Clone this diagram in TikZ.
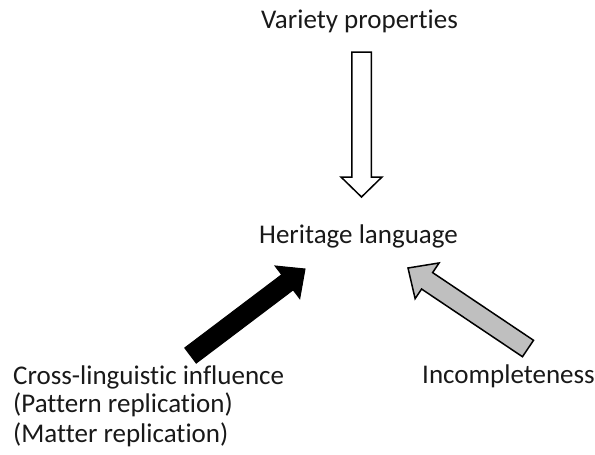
\documentclass[tikz,border=0pt]{standalone}
\usepackage{fontspec}
\setmainfont{Carlito}[Ligatures=NoCommon]
\usetikzlibrary{calc}
\definecolor{arrowgray}{RGB}{191,191,191}
\tikzset{
  lbl/.style={inner sep=0pt, font=\fontsize{27}{32}\selectfont, text=black!90},
  hollowarrow/.style={draw=black, fill=white, line width=1.5pt, line join=miter},
  solidarrow/.style={draw=black, fill=black, line width=1pt, line join=miter},
  grayarrow/.style={draw=black, fill=arrowgray, line width=1.5pt, line join=miter},
}
% #1 style, #2 tail, #3 tip, #4 half shaft width, #5 half head width, #6 head length
\newcommand{\blockarrowdraw}[6]{%
  \coordinate (hb) at ($(#3)!#6!(#2)$);
  \draw[#1] ($(#2)!#4!90:(#3)$) -- ($(hb)!#4!-90:(#2)$) -- ($(hb)!#5!-90:(#2)$)
    -- (#3) -- ($(hb)!#5!90:(#2)$) -- ($(hb)!#4!90:(#2)$) -- ($(#2)!#4!-90:(#3)$) -- cycle;
}
\begin{document}
\begin{tikzpicture}[x=1pt,y=-1pt]
\useasboundingbox (0,0) rectangle (595,455);
\node[lbl, anchor=base] (variety) at (359.5,28) {Variety properties};
\node[lbl, anchor=base] (heritage) at (358.5,243) {Heritage language};
\node[lbl, anchor=base west] (cross) at (13,384) {Cross-linguistic influence};
\node[lbl, anchor=base west] (pattern) at (13,412) {(Pattern replication)};
\node[lbl, anchor=base west] (matter) at (13,442) {(Matter replication)};
\node[lbl, anchor=base west] (incomp) at (422,383) {Incompleteness};
% arrows
\coordinate (vt) at (361.5,52);
\coordinate (vh) at (361.5,197);
\blockarrowdraw{hollowarrow}{vt}{vh}{9.75pt}{20.5pt}{20pt}
\coordinate (ct) at (190.5,355.5);
\coordinate (ch) at (305,269);
\blockarrowdraw{solidarrow}{ct}{ch}{9.5pt}{20.4pt}{22pt}
\coordinate (it) at (528,348.5);
\coordinate (ih) at (408,268);
\blockarrowdraw{grayarrow}{it}{ih}{9.9pt}{21.5pt}{23pt}
\end{tikzpicture}
\end{document}
